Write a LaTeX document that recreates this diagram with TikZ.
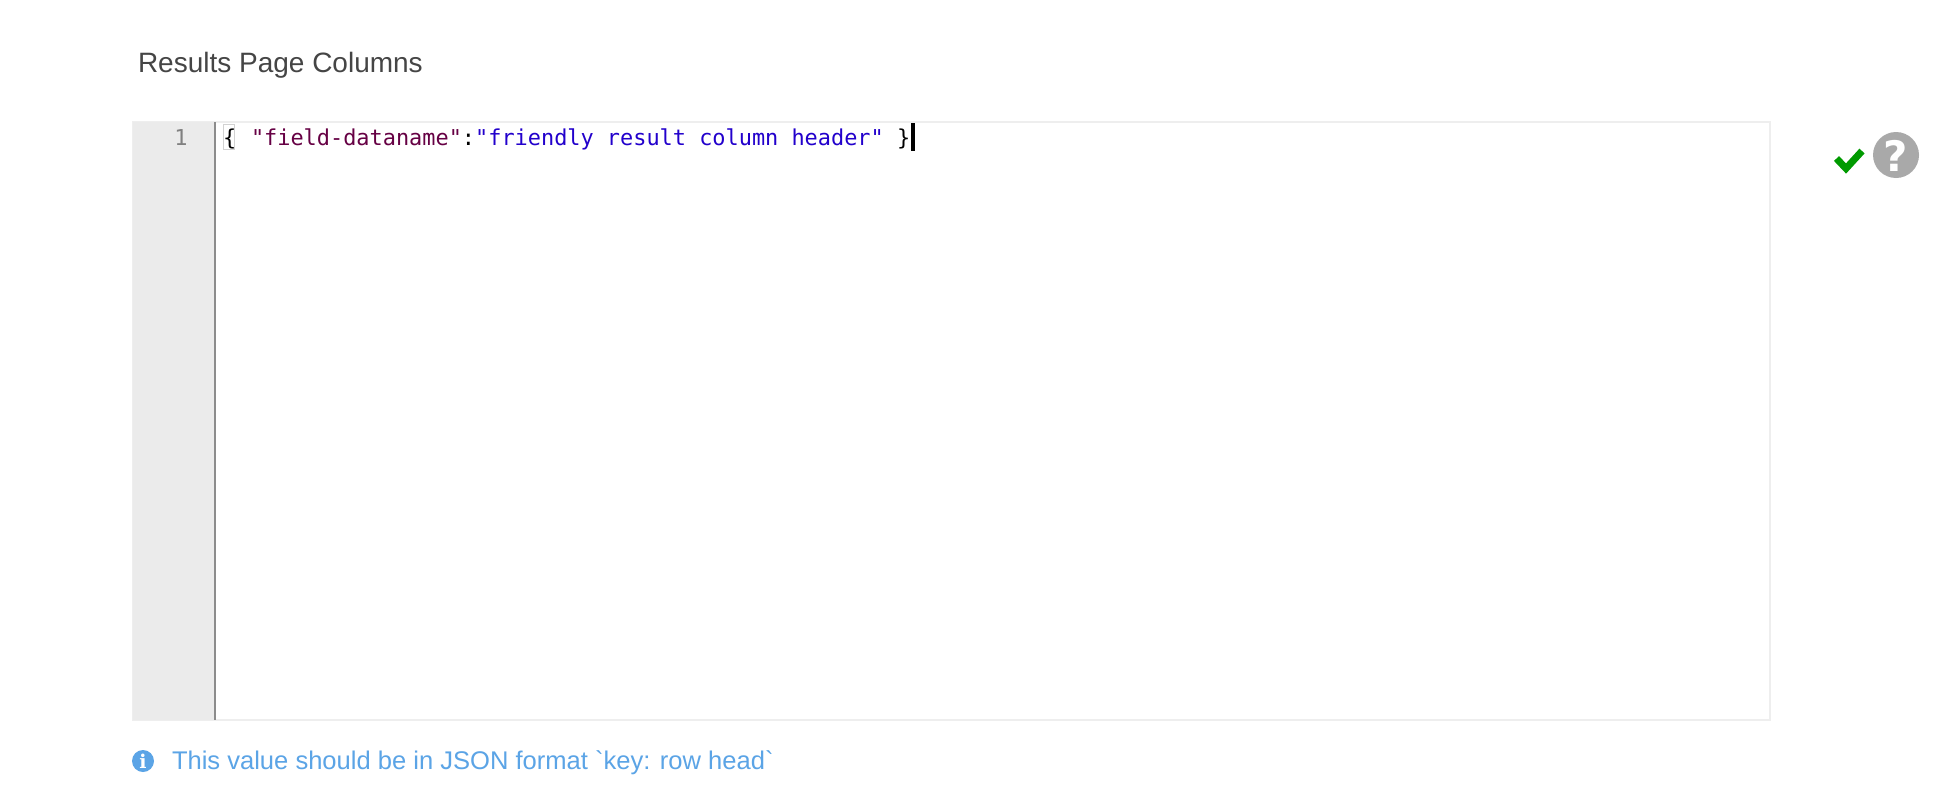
\documentclass[tikz,border=0pt]{standalone}
\usepackage{fontspec}
\setmainfont{Liberation Sans}
\newfontfamily\hintfont{Liberation Sans}
\newfontfamily\codefont{DejaVu Sans Mono}
\newfontfamily\helpfont{DejaVu Sans}
\newfontfamily\infofont{DejaVu Serif}
\definecolor{titlecol}{HTML}{454545}
\definecolor{gutterbg}{HTML}{EBEBEB}
\definecolor{borderc}{HTML}{EEEEEE}
\definecolor{gutterline}{HTML}{8C8C8C}
\definecolor{gutternum}{HTML}{808080}
\definecolor{keycol}{HTML}{660044}
\definecolor{strcol}{HTML}{2200CC}
\definecolor{hintcol}{HTML}{5BA4E6}
\definecolor{okgreen}{HTML}{009A00}
\definecolor{helpgrey}{HTML}{A9A9A9}
\tikzset{
  lbl/.style={inner sep=0pt,outer sep=0pt,anchor=base west},
  codetxt/.style={lbl,font=\codefont\fontsize{21.9}{24}\selectfont}
}
\begin{document}
\begin{tikzpicture}[x=1pt,y=-1pt]
\useasboundingbox (0,0) rectangle (1956,809);
\fill[white] (0,0) rectangle (1956,809);
\node[lbl,text=titlecol,font=\fontsize{28}{32}\selectfont] (title) at (138,72) {Results Page Columns};
% editor
\draw[borderc,line width=2pt,fill=white] (133,122) rectangle (1770,719.5);
\fill[gutterbg] (133,122) rectangle (215,720);
\draw[gutterline,line width=1.6pt] (215,122) -- (215,720);
\node[codetxt,text=gutternum,anchor=base] (lineno) at (181,145) {1};
\draw[gray!35,line width=1pt] (223,124) rectangle (234,149);
\node[codetxt,text=black] (open) at (223,145) {\{};
\node[codetxt,text=keycol] (key) at (251,145) {"field-dataname"};
\node[codetxt,text=black] (colon) at (key.base east) {:};
\node[codetxt,text=strcol] (val) at (colon.base east) {"friendly result column header"};
\node[codetxt,text=black] (close) at (897,145) {\}};
\fill[black] (911,123) rectangle (915,151);
% icons
\draw[okgreen,line width=7pt] (1836.5,158.5) -- (1846,168.5) -- (1862,151);
\fill[helpgrey] (1896,155) circle (23);
\node[text=white,font=\helpfont\bfseries\fontsize{42}{42}\selectfont,inner sep=0pt] (help) at (1896,155.5) {?};
% hint
\fill[hintcol] (143,761) circle (11);
\node[text=white,font=\infofont\bfseries\fontsize{19}{19}\selectfont,inner sep=0pt] (info) at (143,761) {i};
\node[lbl,text=hintcol,font=\hintfont\fontsize{25.55}{30}\selectfont] (hint) at (172,769) {This value should be in JSON format `key: row head`};
\end{tikzpicture}
\end{document}
